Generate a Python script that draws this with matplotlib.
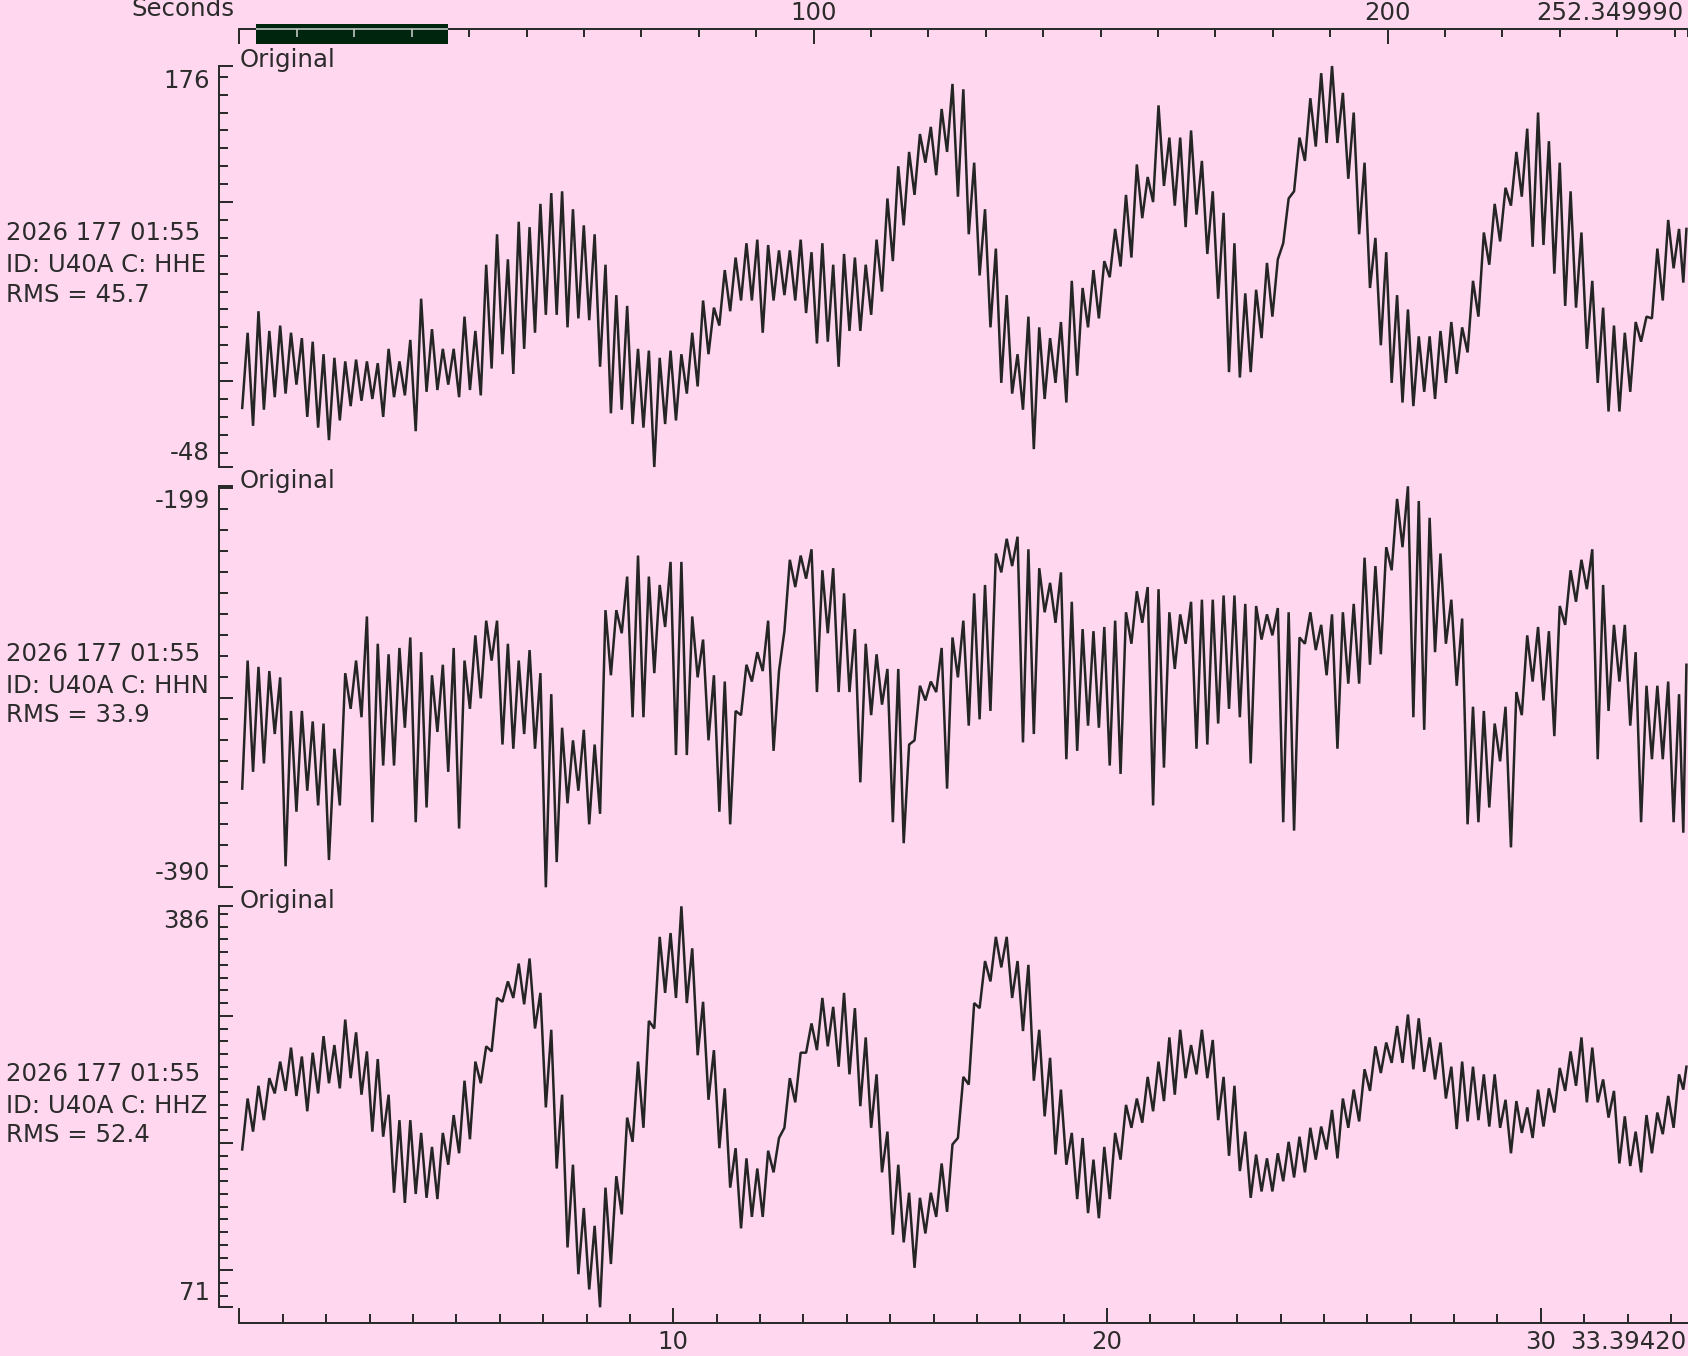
import numpy as np
import matplotlib.pyplot as plt
from matplotlib.patches import Rectangle
from matplotlib.ticker import FixedLocator, FixedFormatter, MultipleLocator

# --- trace data: min / max of each 0.25 s bin ---
channels = ['HHE', 'HHN', 'HHZ']
rms_values = [45.7, 33.9, 52.4]
station = 'U40A'
start_stamp = '2026 177 01:55'

bin_s = 0.25
window_len = 33.39420      # seconds shown in the panels
record_len = 252.349990    # seconds in the whole record
window_start = 2.9         # where the shown window sits in the record

hhe_hi = [27, 39, 28, 31, 27, 24, 22, 15, 13, 11,
          12, 11, 10, 18, 11, 23, 46, 29, 18, 18,
          36, 28, 65, 82, 68, 89, 86, 99, 105, 106,
          96, 87, 82, 65, 48, 42, 18, 17, 13, 17,
          15, 27, 45, 41, 62, 69, 77, 79, 76, 73,
          73, 79, 72, 77, 65, 71, 69, 65, 79, 102,
          120, 128, 138, 142, 152, 166, 163, 122, 96, 74,
          48, 15, 36, 30, 24, 33, 56, 52, 62, 67,
          85, 104, 121, 114, 154, 136, 136, 140, 123, 106,
          94, 77, 49, 51, 66, 68, 102, 136, 158, 172,
          176, 161, 150, 122, 80, 72, 48, 40, 25, 25,
          28, 33, 30, 56, 83, 99, 108, 128, 141, 150,
          134, 122, 106, 83, 56, 41, 31, 27, 33, 36,
          74, 90, 85, 85]
hhe_lo = [-15, -25, -16, -9, -7, -2, -20, -26, -33, -22,
          -14, -11, -10, -20, -9, -8, -28, -6, -5, -2,
          -9, -5, -8, 7, 15, 4, 18, 27, 37, 37,
          30, 35, 34, 8, -18, -16, -24, -26, -48, -24,
          -22, -7, -3, 15, 31, 39, 45, 45, 27, 45,
          48, 45, 38, 21, 22, 8, 28, 28, 37, 50,
          67, 87, 104, 122, 115, 128, 103, 82, 59, 30,
          -1, -7, -16, -38, -10, -1, -12, 3, 30, 35,
          58, 64, 69, 91, 100, 109, 98, 86, 93, 71,
          46, 5, 2, 5, 24, 36, 77, 106, 123, 131,
          133, 133, 113, 82, 52, 20, -1, -12, -14, -6,
          -10, -1, 4, 16, 36, 65, 78, 98, 103, 75,
          76, 60, 42, 41, 18, -1, -17, -17, -6, 22,
          35, 45, 63, 55]

hhn_hi = [-282, -285, -287, -290, -306, -306, -311, -312, -324, -288,
          -282, -261, -274, -279, -276, -271, -278, -289, -284, -276,
          -282, -270, -263, -263, -274, -282, -277, -288, -298, -314,
          -320, -315, -322, -258, -258, -242, -232, -242, -246, -235,
          -235, -261, -272, -289, -292, -306, -284, -278, -263, -287,
          -234, -232, -229, -239, -238, -250, -267, -274, -279, -286,
          -286, -322, -294, -292, -276, -271, -263, -250, -246, -231,
          -224, -223, -229, -238, -245, -240, -254, -267, -268, -266,
          -263, -259, -249, -247, -248, -259, -260, -254, -253, -253,
          -251, -251, -255, -256, -260, -257, -259, -271, -259, -265,
          -260, -259, -255, -233, -237, -228, -205, -199, -206, -214,
          -231, -253, -262, -304, -306, -312, -304, -297, -270, -266,
          -268, -256, -239, -234, -229, -246, -265, -265, -278, -294,
          -294, -292, -298, -284]
hhn_lo = [-343, -335, -331, -317, -380, -354, -344, -351, -377, -351,
          -305, -309, -359, -332, -332, -314, -359, -352, -316, -335,
          -362, -305, -300, -282, -322, -324, -317, -324, -390, -378,
          -350, -344, -360, -355, -289, -269, -309, -309, -288, -266,
          -327, -327, -290, -320, -354, -360, -308, -292, -287, -325,
          -268, -247, -243, -297, -269, -297, -297, -340, -308, -303,
          -359, -369, -320, -301, -297, -343, -290, -313, -310, -306,
          -240, -237, -321, -317, -259, -264, -329, -325, -313, -314,
          -332, -336, -274, -264, -351, -333, -286, -274, -324, -322,
          -312, -305, -309, -331, -272, -270, -359, -363, -274, -277,
          -289, -324, -293, -293, -284, -279, -239, -228, -309, -315,
          -278, -274, -294, -360, -359, -352, -330, -371, -308, -292,
          -301, -318, -265, -254, -248, -329, -306, -292, -313, -359,
          -329, -329, -359, -364]

hhz_hi = [235, 245, 251, 264, 275, 268, 271, 284, 277, 297,
          287, 272, 266, 238, 218, 218, 208, 197, 208, 222,
          249, 264, 276, 314, 327, 341, 345, 318, 289, 238,
          183, 149, 135, 165, 174, 220, 264, 296, 362, 365,
          386, 353, 311, 273, 243, 196, 188, 180, 194, 204,
          251, 271, 294, 314, 307, 318, 306, 283, 254, 209,
          183, 161, 157, 161, 184, 199, 252, 310, 343, 362,
          362, 343, 340, 289, 267, 242, 208, 204, 187, 197,
          208, 230, 235, 252, 264, 283, 289, 277, 289, 281,
          252, 245, 209, 191, 188, 192, 201, 205, 212, 213,
          226, 235, 242, 258, 276, 279, 292, 301, 298, 283,
          279, 260, 264, 260, 254, 254, 234, 233, 228, 242,
          243, 259, 272, 283, 275, 250, 241, 221, 209, 222,
          224, 237, 254, 260]
hhz_lo = [195, 209, 218, 239, 241, 237, 225, 239, 247, 243,
          251, 238, 209, 205, 161, 153, 160, 157, 156, 183,
          192, 203, 247, 272, 311, 314, 309, 290, 228, 180,
          118, 97, 85, 71, 105, 144, 201, 212, 290, 318,
          314, 310, 269, 234, 196, 165, 133, 142, 142, 177,
          212, 232, 271, 273, 276, 260, 254, 229, 212, 177,
          128, 122, 102, 129, 142, 146, 204, 246, 306, 327,
          338, 314, 288, 249, 221, 191, 183, 156, 145, 141,
          156, 187, 212, 216, 225, 233, 238, 251, 254, 251,
          218, 190, 178, 157, 162, 162, 170, 173, 177, 187,
          195, 188, 212, 217, 241, 255, 263, 263, 258, 256,
          250, 235, 211, 217, 218, 213, 212, 192, 208, 204,
          213, 224, 241, 245, 232, 232, 220, 184, 182, 177,
          192, 207, 212, 242]

highs = [hhe_hi, hhn_hi, hhz_hi]
lows = [hhe_lo, hhn_lo, hhz_lo]

# --- look ---
W, H, DPI = 1688, 1356, 100
bg = '#ffd8f0'
ink = '#2b2b2b'
trace_col = '#252525'
box_col = '#00250f'
fs = 17.6


def px(n):
    # pixels -> points
    return n * 72.0 / DPI


plt.rcParams['font.family'] = ['DejaVu Sans']
plt.rcParams['text.color'] = ink

fig = plt.figure(figsize=(W / DPI, H / DPI), dpi=DPI, facecolor=bg)

left = 239.5 / W
panel_tops = [66.0, 486.3, 906.3]
panel_h = 401.0

for i in range(3):
    hi = np.array(highs[i], float)
    lo = np.array(lows[i], float)
    top = panel_tops[i]
    ax = fig.add_axes([left, 1 - (top + panel_h) / H, 1 - left, panel_h / H])
    ax.set_facecolor('none')

    n = len(hi)
    t0 = np.arange(n) * bin_s
    w = np.minimum(bin_s, window_len - t0)
    xs = np.column_stack([t0 + 0.25 * w, t0 + 0.75 * w]).ravel()
    ys = np.column_stack([lo, hi]).ravel()
    ax.plot(xs, ys, color=trace_col, lw=px(2.5), clip_on=False, solid_joinstyle='bevel')

    ymin, ymax = lo.min(), hi.max()
    ax.set_xlim(0, window_len)
    ax.set_ylim(ymin, ymax)

    for s in ['top', 'right']:
        ax.spines[s].set_visible(False)
    ax.spines['left'].set_position(('outward', px(20)))
    ax.spines['left'].set_linewidth(px(2))
    ax.spines['left'].set_color(ink)

    majors = [ymin] + [v for v in range(-1000, 1001, 100) if ymin < v < ymax] + [ymax]
    minors = [v for v in range(-1000, 1001, 10) if ymin < v < ymax]
    ax.yaxis.set_major_locator(FixedLocator(majors))
    ax.yaxis.set_minor_locator(FixedLocator(minors))
    ax.tick_params(axis='y', which='major', direction='in', length=px(14), width=px(2),
                   color=ink, labelleft=False)
    ax.tick_params(axis='y', which='minor', direction='in', length=px(8.5), width=px(2),
                   color=ink)

    # extreme values at the ends of the amplitude axis
    ax.annotate(str(int(ymax)), xy=(0, 1), xycoords='axes fraction',
                xytext=(px(-29.5), px(-21.5)), textcoords='offset points',
                ha='right', va='baseline', fontsize=fs, color=ink)
    ax.annotate(str(int(ymin)), xy=(0, 0), xycoords='axes fraction',
                xytext=(px(-29.5), px(7)), textcoords='offset points',
                ha='right', va='baseline', fontsize=fs, color=ink)

    ax.annotate('Original', xy=(0, 1), xycoords='axes fraction',
                xytext=(0, px(-1.5)), textcoords='offset points',
                ha='left', va='baseline', fontsize=fs, color=ink)

    mid = top + panel_h / 2
    info = [start_stamp, 'ID: %s C: %s' % (station, channels[i]), 'RMS = %.1f' % rms_values[i]]
    for line, off in zip(info, [-26, 6, 35.5]):
        fig.text(6.5 / W, 1 - (mid + off) / H, line, ha='left', va='baseline',
                 fontsize=fs, color=ink)

    if i < 2:
        ax.spines['bottom'].set_visible(False)
        ax.tick_params(axis='x', which='both', bottom=False, labelbottom=False)
    else:
        ax.spines['bottom'].set_position(('outward', px(15.5)))
        ax.spines['bottom'].set_linewidth(px(2))
        ax.spines['bottom'].set_color(ink)
        ax.xaxis.set_major_locator(FixedLocator([0, 10, 20, 30]))
        ax.xaxis.set_major_formatter(FixedFormatter(['', '10', '20', '30']))
        ax.xaxis.set_minor_locator(MultipleLocator(1))
        ax.tick_params(axis='x', which='major', direction='in', length=px(14.7), width=px(2),
                       color=ink, labelsize=fs, labelcolor=ink, pad=px(7))
        ax.tick_params(axis='x', which='minor', direction='in', length=px(8.7), width=px(2),
                       color=ink)
        ax.annotate('%.5f' % window_len, xy=(1, 0), xycoords='axes fraction',
                    xytext=(px(-2), px(-22.5)), textcoords='offset points',
                    ha='right', va='top', fontsize=fs, color=ink)

# --- overview axis of the whole record, with the shown window ---
axt = fig.add_axes([left, 1 - 44.0 / H, 1 - left, 15.0 / H])
axt.set_facecolor('none')
axt.set_xlim(0, record_len)
axt.set_ylim(0, 1)
for s in ['left', 'right', 'bottom']:
    axt.spines[s].set_visible(False)
axt.spines['top'].set_linewidth(px(2))
axt.spines['top'].set_color(ink)
axt.yaxis.set_visible(False)
axt.xaxis.tick_top()
axt.xaxis.set_major_locator(FixedLocator([0, 100, 200]))
minor_top = [v for v in range(10, 260, 10) if v % 100 and v < record_len] + [record_len]
axt.xaxis.set_minor_locator(FixedLocator(minor_top))
axt.tick_params(axis='x', which='major', direction='in', length=px(14.5), width=px(2),
                color=ink, labeltop=False, labelbottom=False)
axt.tick_params(axis='x', which='minor', direction='in', length=px(7.7), width=px(2),
                color=ink)

for v in [100, 200]:
    axt.annotate(str(v), xy=(v, 1), xycoords=('data', 'axes fraction'),
                 xytext=(0, px(9)), textcoords='offset points',
                 ha='center', va='baseline', fontsize=fs, color=ink)
axt.annotate('%.6f' % record_len, xy=(1, 1), xycoords='axes fraction',
             xytext=(px(-5), px(9)), textcoords='offset points',
             ha='right', va='baseline', fontsize=fs, color=ink)
axt.annotate('Seconds', xy=(0, 1), xycoords='axes fraction',
             xytext=(px(-4.5), px(12.5)), textcoords='offset points',
             ha='right', va='baseline', fontsize=fs, color=ink)

box_hi = window_start + window_len
axt.add_patch(Rectangle((window_start, 0), window_len, 1 + 5.0 / 15, facecolor=box_col,
                        edgecolor='none', clip_on=False, zorder=5))
axt.hlines(1, window_start, box_hi, color='#d6d6d6', lw=px(1.5), zorder=6, clip_on=False)
inside = [v for v in minor_top if window_start < v < box_hi]
axt.vlines(inside, 1 - 7.7 / 15, 1, color='#d6d6d6', lw=px(1.5), zorder=6, clip_on=False)

fig.savefig('out.png', dpi=DPI, facecolor=bg)
